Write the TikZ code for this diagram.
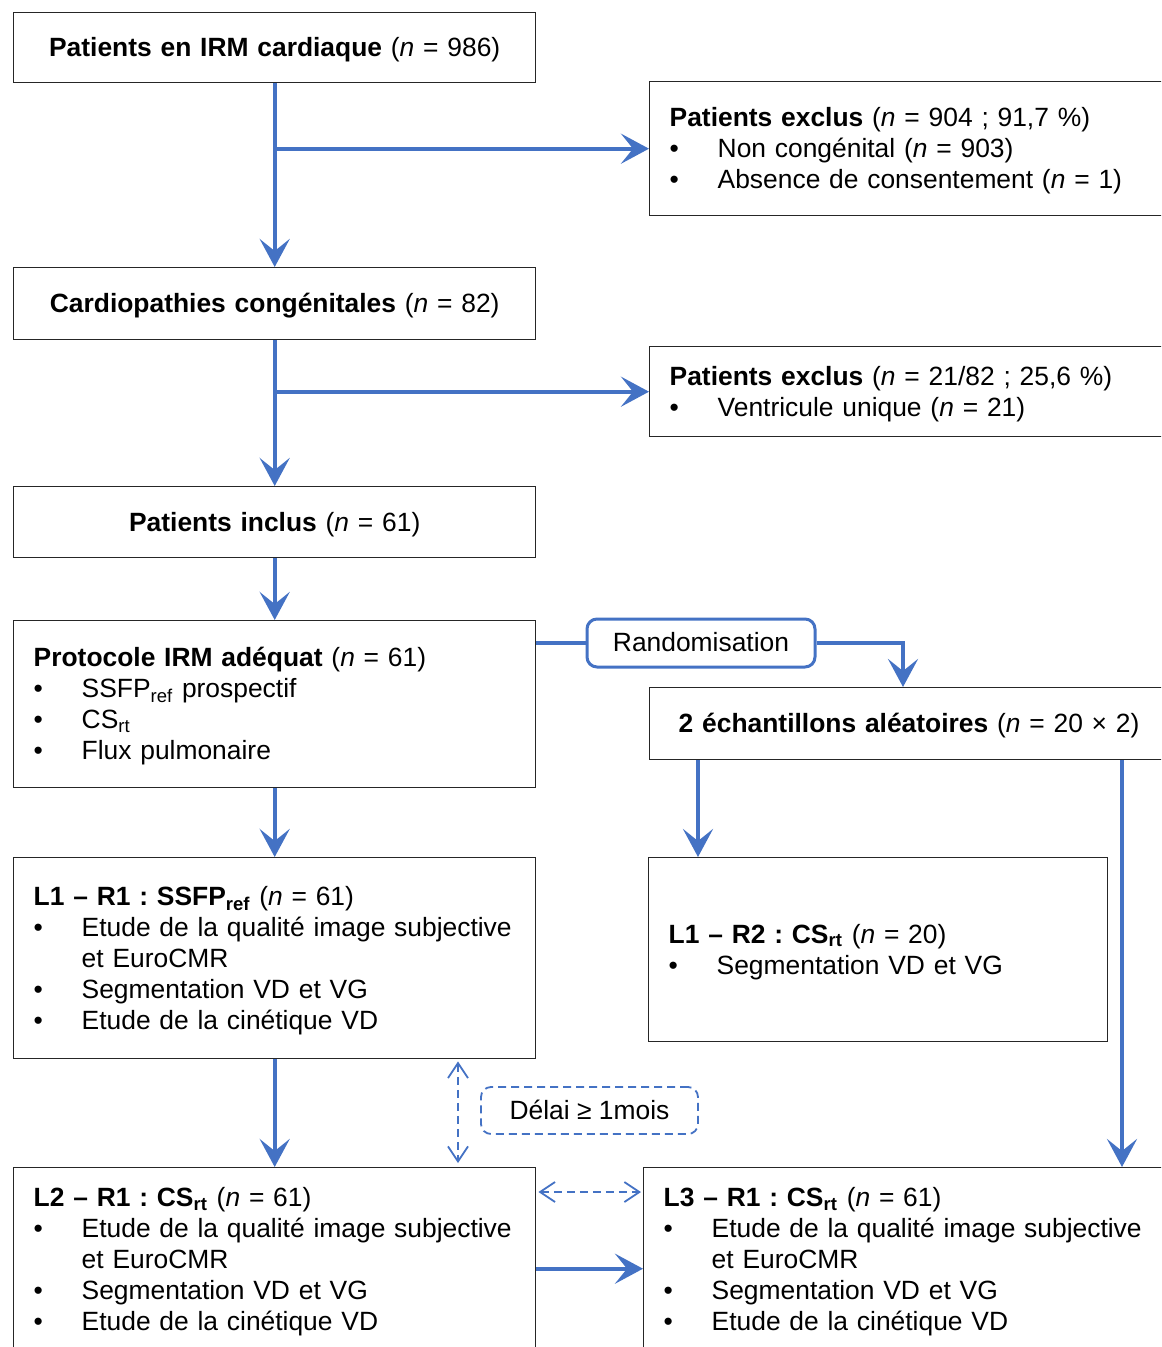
\documentclass[tikz,border=0pt]{standalone}
\usepackage{fontspec}
\setmainfont{Liberation Sans}
\usetikzlibrary{arrows.meta, positioning}
\definecolor{flowblue}{HTML}{4472C4}
\frenchspacing
\hyphenpenalty=10000
\exhyphenpenalty=10000
\newcommand{\lh}{\rule[-0.21em]{0pt}{1.1em}}
\newcommand{\nn}{{\itshape n}}
\newcommand{\itm}[1]{\par\hangindent=24pt\noindent\makebox[24pt][l]{\textbullet}#1}

\begin{document}
\begin{tikzpicture}[x=0.5pt, y=-0.5pt,
	box/.style={draw=black!85, line width=0.7pt, inner xsep=10pt, inner ysep=0pt, text width=241pt, align=left, anchor=north west, font=\fontsize{13.2}{15.5}\selectfont},
	flow/.style={draw=flowblue, line width=2pt, -{Stealth[length=14pt, width=15pt, inset=6pt]}},
	link/.style={draw=flowblue, line width=0.9pt, dash pattern=on 4pt off 2.5pt, {Straight Barb[length=7.5pt, width=10pt]}-{Straight Barb[length=7.5pt, width=10pt]}}
	]
	\useasboundingbox (0,0) rectangle (1161,1347);
	\clip (0,0) rectangle (1161,1347);
	
	% main column
	\node[box, align=center, minimum height=35pt] (irm) at (13,12) {\lh\textbf{Patients en IRM cardiaque} (\nn{} = 986)};
	\node[box, align=center, minimum height=36pt] (congen) at (13,267) {\lh\textbf{Cardiopathies congénitales} (\nn{} = 82)};
	\node[box, align=center, minimum height=35.5pt] (inclus) at (13,486) {\lh\textbf{Patients inclus} (\nn{} = 61)};
	\node[box, minimum height=83.5pt] (proto) at (13,620) {\lh\textbf{Protocole IRM adéquat} (\nn{} = 61)
		\itm{SSFP\textsubscript{ref} prospectif}
		\itm{CS\textsubscript{rt}}
		\itm{Flux pulmonaire\lh}};
	\node[box, minimum height=100.5pt] (lunr) at (13,857) {\lh\textbf{L1 – R1 : SSFP\textsubscript{ref}} (\nn{} = 61)
		\itm{Etude de la qualité image subjective et EuroCMR}
		\itm{Segmentation VD et VG}
		\itm{Etude de la cinétique VD\lh}};
	\node[box, minimum height=92pt] (ldeux) at (13,1167) {\lh\textbf{L2 – R1 : CS\textsubscript{rt}} (\nn{} = 61)
		\itm{Etude de la qualité image subjective et EuroCMR}
		\itm{Segmentation VD et VG}
		\itm{Etude de la cinétique VD\lh}};
	
	% right column
	\node[box, text width=250pt, minimum height=67pt] (exclA) at (649,81) {\lh\textbf{Patients exclus} (\nn{} = 904 ; 91,7~\%)
		\itm{Non congénital (\nn{} = 903)}
		\itm{Absence de consentement (\nn{} = 1)\lh}};
	\node[box, text width=250pt, minimum height=45pt] (exclB) at (649,346) {\lh\textbf{Patients exclus} (\nn{} = 21/82 ; 25,6~\%)
		\itm{Ventricule unique (\nn{} = 21)\lh}};
	\node[box, inner xsep=14.5pt, minimum height=36pt] (ech) at (649,687) {\lh\textbf{2 échantillons aléatoires} (\nn{} = 20 × 2)};
	\node[box, text width=209.5pt, minimum height=92pt] (lunrdeux) at (648,857) {\lh\textbf{L1 – R2 : CS\textsubscript{rt}} (\nn{} = 20)
		\itm{Segmentation VD et VG\lh}};
	\node[box, minimum height=92pt] (ltrois) at (643,1167) {\lh\textbf{L3 – R1 : CS\textsubscript{rt}} (\nn{} = 61)
		\itm{Etude de la qualité image subjective et EuroCMR}
		\itm{Segmentation VD et VG}
		\itm{Etude de la cinétique VD\lh}};
	
	% labels on the links
	\node[draw=flowblue, line width=1.5pt, rounded corners=5pt, minimum width=114pt, minimum height=24pt, inner sep=0pt, font=\fontsize{13.2}{15.5}\selectfont] (rando) at (701,643) {\lh Randomisation};
	\node[draw=flowblue, line width=0.9pt, dash pattern=on 4pt off 2.5pt, rounded corners=5pt, minimum width=108.5pt, minimum height=23.5pt, inner sep=0pt, font=\fontsize{13.2}{15.5}\selectfont] (delai) at (589.5,1110.5) {\lh Délai ≥ 1mois};
	
	% arrows
	\draw[flow] (irm) -- (congen);
	\draw[flow] (irm.south |- exclA.west) -- (exclA.west);
	\draw[flow] (congen) -- (inclus);
	\draw[flow] (congen.south |- exclB.west) -- (exclB.west);
	\draw[flow] (inclus) -- (proto);
	\draw[flowblue, line width=2pt] (proto.east |- rando.west) -- (rando.west);
	\coordinate (r1) at ([xshift=127pt]ech.north west);
	\draw[flow] (rando.east) -| (r1);
	\draw[flow] (proto) -- (lunr);
	\coordinate (e1) at ([xshift=25pt]lunrdeux.north west);
	\draw[flow] (ech.south -| e1) -- (e1);
	\coordinate (e2) at ([xshift=239.5pt]ltrois.north west);
	\draw[flow] (ech.south -| e2) -- (e2);
	\draw[flow] (lunr) -- (ldeux);
	\coordinate (h1) at ([yshift=-4.5pt]ldeux.east);
	\draw[flow] (h1) -- (h1 -| ltrois.west);
	
	% dashed links
	\coordinate (d1) at (458,0);
	\draw[link] ([yshift=-1pt]lunr.south -| d1) -- ([yshift=2pt]ldeux.north -| d1);
	\coordinate (d2) at (0,1192);
	\draw[link] ([xshift=1pt]ldeux.east |- d2) -- ([xshift=-1pt]ltrois.west |- d2);
\end{tikzpicture}
\end{document}
